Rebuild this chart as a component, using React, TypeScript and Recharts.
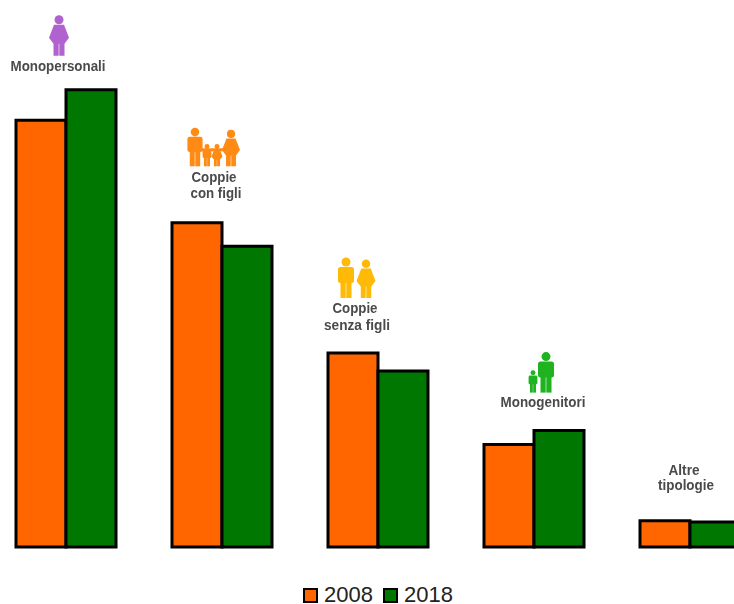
import { BarChart, Bar, XAxis, YAxis, Legend, LabelList } from "recharts";

const categories = ["Monopersonali", "Coppie con figli", "Coppie senza figli", "Monogenitori", "Altre tipologie"];
const values2008 = [30.8, 23.4, 14, 7.4, 1.9];
const values2018 = [33, 21.7, 12.7, 8.4, 1.8];

const data = categories.map((name, i) => ({ name, y2008: values2008[i], y2018: values2018[i] }));

const Man = ({ x, y, s = 1, color }: any) => (
  <g transform={`translate(${x},${y}) scale(${s})`} fill={color}>
    <circle cx={0} cy={4} r={4.5} />
    <rect x={-8} y={9} width={16} height={16} rx={2.5} />
    <rect x={-5.5} y={20} width={5.2} height={20} />
    <rect x={0.3} y={20} width={5.2} height={20} />
  </g>
);

const Woman = ({ x, y, s = 1, color }: any) => (
  <g transform={`translate(${x},${y}) scale(${s})`} fill={color}>
    <circle cx={0} cy={4} r={4.5} />
    <path d="M-5,9 L5,9 L10,22 L5.5,28 L5.5,40 L0.3,40 L0.3,28 L-0.3,28 L-0.3,40 L-5.5,40 L-5.5,28 L-10,22 Z" />
  </g>
);

// annotation above each group, offsets from the top of the 2018 bar
const notes = [
  {
    lines: [{ text: "Monopersonali", dx: -8, dy: -19, w: 95 }],
    icons: [<Woman key="w" x={-7} y={-74} color="#b063cf" />],
  },
  {
    lines: [
      { text: "Coppie", dx: -8, dy: -64, w: 45 },
      { text: "con figli", dx: -6, dy: -48, w: 51 },
    ],
    icons: [
      <rect key="arm" x={-27} y={-98} width={36} height={3} fill="#ff8a14" />,
      <Man key="m" x={-27} y={-118} s={0.95} color="#ff8a14" />,
      <Man key="c1" x={-15} y={-102} s={0.55} color="#ff8a14" />,
      <Woman key="c2" x={-5} y={-102} s={0.55} color="#ff8a14" />,
      <Woman key="w" x={9} y={-116} s={0.9} color="#ff8a14" />,
    ],
  },
  {
    lines: [
      { text: "Coppie", dx: -23, dy: -58, w: 45 },
      { text: "senza figli", dx: -21, dy: -41, w: 66 },
    ],
    icons: [
      <Man key="m" x={-32} y={-113} color="#ffba08" />,
      <Woman key="w" x={-12} y={-111} s={0.95} color="#ffba08" />,
    ],
  },
  {
    lines: [{ text: "Monogenitori", dx: 9, dy: -24, w: 85 }],
    icons: [
      <Man key="m" x={12} y={-78} color="#1fb31f" />,
      <Man key="c" x={-1} y={-60} s={0.55} color="#1fb31f" />,
    ],
  },
  {
    lines: [
      { text: "Altre", dx: -6, dy: -47, w: 31 },
      { text: "tipologie", dx: -4, dy: -32, w: 56 },
    ],
    icons: [],
  },
];

const CategoryNote = ({ x, y, index }: any) => {
  const note = notes[index];
  return (
    <g transform={`translate(${x},${y})`} style={{ filter: "blur(0.5px)" }}>
      {note.icons}
      {note.lines.map((l) => (
        <text
          key={l.text}
          x={l.dx}
          y={l.dy}
          textAnchor="middle"
          textLength={l.w}
          lengthAdjust="spacingAndGlyphs"
          fontFamily="'Liberation Sans'"
          fontWeight="bold"
          fontSize={15}
          fill="#4a4a4a"
        >
          {l.text}
        </text>
      ))}
    </g>
  );
};

const LegendRow = ({ payload }: any) => (
  <div style={{ display: "flex", alignItems: "center", height: 18 }}>
    {payload.map((p: any) => (
      <span key={p.value} style={{ display: "flex", alignItems: "center", marginRight: 10 }}>
        <span
          style={{
            width: 11,
            height: 11,
            background: p.color,
            border: "2.5px solid #000",
            marginRight: 6,
          }}
        />
        <span style={{ fontFamily: "'Liberation Sans'", fontSize: 22, lineHeight: "18px", color: "#222" }}>{p.value}</span>
      </span>
    ))}
  </div>
);

export default function App() {
  return (
    <div style={{ position: "fixed", left: 0, top: 0, width: 734, height: 604, overflow: "hidden", background: "#fff" }}>
      <div style={{ position: "absolute", left: -12, top: 0 }}>
        <BarChart
          width={780}
          height={604}
          data={data}
          barSize={50}
          barGap={0}
          barCategoryGap={0}
          margin={{ top: 62, right: 0, bottom: 39, left: 0 }}
        >
          <XAxis dataKey="name" hide />
          <YAxis hide domain={[0, 35]} />
          <Legend
            content={<LegendRow />}
            wrapperStyle={{ position: "absolute", left: 315, top: 586, width: 200, bottom: "auto" }}
          />
          <Bar dataKey="y2008" name="2008" fill="#ff6600" stroke="#000" strokeWidth={3} isAnimationActive={false} />
          <Bar dataKey="y2018" name="2018" fill="#007700" stroke="#000" strokeWidth={3} isAnimationActive={false}>
            <LabelList dataKey="name" content={<CategoryNote />} />
          </Bar>
        </BarChart>
      </div>
    </div>
  );
}
